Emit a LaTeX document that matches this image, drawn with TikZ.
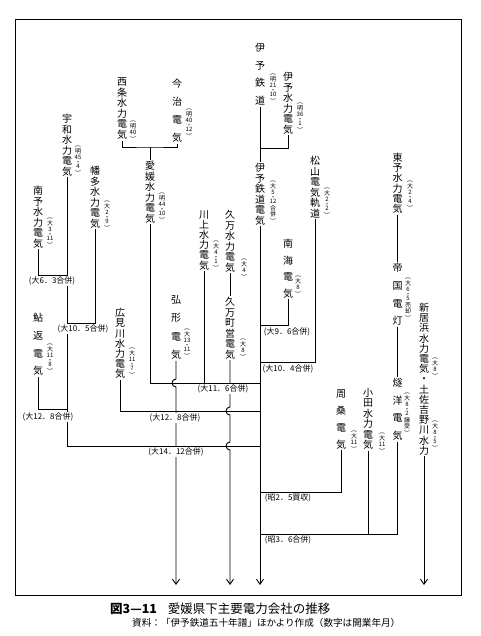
\documentclass[tikz,border=0pt]{standalone}
\usepackage{fontspec}
\newfontfamily\cjk{Noto Sans CJK JP}
\usetikzlibrary{arrows.meta}
\newcommand\ao{\rotatebox[origin=c]{-90}{(}\\[-1.2pt]}
\newcommand\ac{\\[-1.8pt]\rotatebox[origin=c]{-90}{)}}
\newcommand\vd{\\[-2pt]・\\[-2pt]}
\tikzset{
  nm/.style={font=\cjk\fontsize{10}{#1}\selectfont, align=center, inner xsep=0pt, inner ysep=1pt, anchor=north},
  nm/.default=10.5,
  ann/.style={font=\cjk\fontsize{6}{6.5}\selectfont, align=center, inner sep=0pt, anchor=north},
  lbl/.style={font=\cjk\fontsize{8}{9}\selectfont, inner sep=1pt, fill=white},
  ln/.style={line width=0.9pt},
  arr/.style={ln, -{Straight Barb[length=5pt,width=7pt]}}
}
\begin{document}
\begin{tikzpicture}[x=1pt,y=-1pt]
\useasboundingbox (0,0) rectangle (480,636);
\draw[line width=1pt] (15,20) rectangle (461,595);

% company names
\node[nm] (saijo) at (122,77) {西\\条\\水\\力\\電\\気};
\node[nm=18] (imabari) at (177,78) {今\\治\\電\\気};
\node[nm] (ehime) at (150,160) {愛\\媛\\水\\力\\電\\気};
\node[nm] (uwa) at (67,113) {宇\\和\\水\\力\\電\\気};
\node[nm] (hata) at (95,165) {幡\\多\\水\\力\\電\\気};
\node[nm] (nanyo) at (38,185) {南\\予\\水\\力\\電\\気};
\node[nm=17.7] (ayu) at (38,312) {鮎\\返\\電\\気};
\node[nm=10.2] (hiromi) at (120,307) {広\\見\\川\\水\\力\\電\\気};
\node[nm=18.5] (kogata) at (176,294) {弘\\形\\電\\気};
\node[nm=10.2] (kawakami) at (204,209) {川\\上\\水\\力\\電\\気};
\node[nm] (kuma) at (230,209) {久\\万\\水\\力\\電\\気};
\node[nm] (kumacho) at (230,296) {久\\万\\町\\営\\電\\気};
\node[nm=17.7] (iyotetsu) at (260,42) {伊\\予\\鉄\\道};
\node[nm] (iyosui) at (288,71) {伊\\予\\水\\力\\電\\気};
\node[nm] (iyoden) at (260,162) {伊\\予\\鉄\\道\\電\\気};
\node[nm] (matsuyama) at (315,155) {松\\山\\電\\気\\軌\\道};
\node[nm=16.5] (nankai) at (288,238) {南\\海\\電\\気};
\node[nm=10.2] (toyo) at (397.5,152) {東\\予\\水\\力\\電\\気};
\node[nm=17.7] (teikoku) at (397.5,262) {帝\\国\\電\\灯};
\node[nm=17.7] (suiyo) at (397.5,377) {燧\\洋\\電\\気};
\node[nm] (oda) at (368,387) {小\\田\\水\\力\\電\\気};
\node[nm=17] (shuso) at (341,388) {周\\桑\\電\\気};
\node[nm=10.2] (niihama) at (424,302) {新\\居\\浜\\水\\力\\電\\気\\・\\土\\佐\\吉\\野\\川\\水\\力};

% dates
\node[ann] (d1) at (133,120) {\ao 明\\40\ac};
\node[ann] (d2) at (189,108) {\ao 明\\40\vd 12\ac};
\node[ann] (d3) at (162,192) {\ao 明\\44\vd 10\ac};
\node[ann] (d4) at (78,145) {\ao 明\\45\vd 4\ac};
\node[ann] (d5) at (107,200) {\ao 大\\2\vd 9\ac};
\node[ann] (d6) at (50,217) {\ao 大\\3\vd 11\ac};
\node[ann] (d7) at (50,343) {\ao 大\\11\vd 8\ac};
\node[ann] (d8) at (132,347) {\ao 大\\11\vd 7\ac};
\node[ann] (d9) at (187,328) {\ao 大\\13\vd 11\ac};
\node[ann] (d10) at (216,240) {\ao 大\\4\vd 1\ac};
\node[ann] (d11) at (244,258) {\ao 大\\4\ac};
\node[ann] (d12) at (243,338) {\ao 大\\8\ac};
\node[ann] (d13) at (273,73) {\ao 明\\21\vd 10\ac};
\node[ann] (d14) at (300,102) {\ao 明\\36\vd 1\ac};
\node[ann] (d15) at (273,180) {\ao 大\\5\vd 12\\合\\併\ac};
\node[ann] (d16) at (327,187) {\ao 大\\2\vd 2\ac};
\node[ann] (d17) at (298,275) {\ao 大\\8\ac};
\node[ann] (d18) at (410,180) {\ao 大\\2\vd 4\ac};
\node[ann] (d19) at (408,277) {\ao 大\\6\vd 5\\売\\却\ac};
\node[ann] (d20) at (407,392) {\ao 大\\8\vd 2\\譲\\受\ac};
\node[ann] (d21) at (382,432) {\ao 大\\11\ac};
\node[ann] (d22) at (354,430) {\ao 大\\11\ac};
\node[ann] (d23) at (435,357) {\ao 大\\8\ac};
\node[ann] (d24) at (435,420) {\ao 大\\8\vd 5\ac};

% junction coordinates
\coordinate (jA) at (150,147);
\coordinate (jB) at (260,148);
\coordinate (u1) at (67,275);
\coordinate (u2) at (67,323);
\coordinate (u3) at (67,409);
\coordinate (u4) at (67,446);
\coordinate (t1) at (260,325);
\coordinate (t2) at (260,362);
\coordinate (t3) at (260,383);
\coordinate (t4) at (260,411);
\coordinate (t5) at (260,446);
\coordinate (t6) at (260,492);
\coordinate (t7) at (260,534);
\coordinate (h1) at (176,383);
\coordinate (h2) at (230,411);
\coordinate (h3) at (230,446);
\coordinate (e1) at (176,585);
\coordinate (e2) at (230,585);
\coordinate (e3) at (260,585);
\coordinate (e4) at (424,585);

% connectors
\draw[ln] (saijo.south) |- (jA) -| (imabari.south);
\draw[ln] (jA) -- (ehime.north);
\draw[ln] (iyotetsu.south) -- (iyoden.north);
\draw[ln] (jB) -| (iyosui.south);
\draw[ln] (uwa.south) -- (u4) -- (t5);
\draw[ln] (nanyo.south) |- (u1);
\draw[ln] (hata.south) |- (u2);
\draw[ln] (ayu.south) |- (u3);
\draw[ln] (hiromi.south) |- (t4);
\draw[ln] (ehime.south) |- (t3);
\draw[ln] (kawakami.south) -- (kawakami.south |- t3);
\draw[ln] (kuma.south) -- (kumacho.north);
\draw[arr] (kumacho.south) -- ([yshift=4pt]h2) arc[start angle=270,end angle=90,radius=4]
  -- ([yshift=4pt]h3) arc[start angle=270,end angle=90,radius=4] -- (e2);
\draw[arr] (kogata.south) -- ([yshift=4pt]h1) arc[start angle=270,end angle=90,radius=4] -- (e1);
\draw[arr] (iyoden.south) -- (e3);
\draw[ln] (nankai.south) |- (t1);
\draw[ln] (matsuyama.south) |- (t2);
\draw[ln] (toyo.south) -- (teikoku.north);
\draw[ln] (teikoku.south) -- (suiyo.north);
\draw[ln] (suiyo.south) |- (t7);
\draw[ln] (oda.south) -- (oda.south |- t7);
\draw[ln] (shuso.south) |- (t6);
\draw[arr] (niihama.south) -- (e4);

% merge labels
\node[lbl] (m1) at (52,281) {(大6．3合併)};
\node[lbl] (m2) at (83,329) {(大10．5合併)};
\node[lbl] (m3) at (48,417) {(大12．8合併)};
\node[lbl] (m4) at (223,389) {(大11．6合併)};
\node[lbl] (m5) at (175,418) {(大12．8合併)};
\node[lbl] (m6) at (176,452) {(大14．12合併)};
\node[lbl] (m7) at (287,332) {(大9．6合併)};
\node[lbl] (m8) at (288,369) {(大10．4合併)};
\node[lbl] (m9) at (288,498) {(昭2．5買収)};
\node[lbl] (m10) at (288,540) {(昭3．6合併)};

% caption
\node[anchor=west, inner sep=0pt, font=\cjk\fontsize{12.5}{14}\selectfont] (cap) at (110,609) {\textbf{図3—11}\hspace{11pt}愛媛県下主要電力会社の推移};
\node[anchor=west, inner sep=0pt, font=\cjk\fontsize{9.6}{11}\selectfont] (src) at (132,623) {資料：「伊予鉄道五十年譜」ほかより作成（数字は開業年月）};
\end{tikzpicture}
\end{document}
